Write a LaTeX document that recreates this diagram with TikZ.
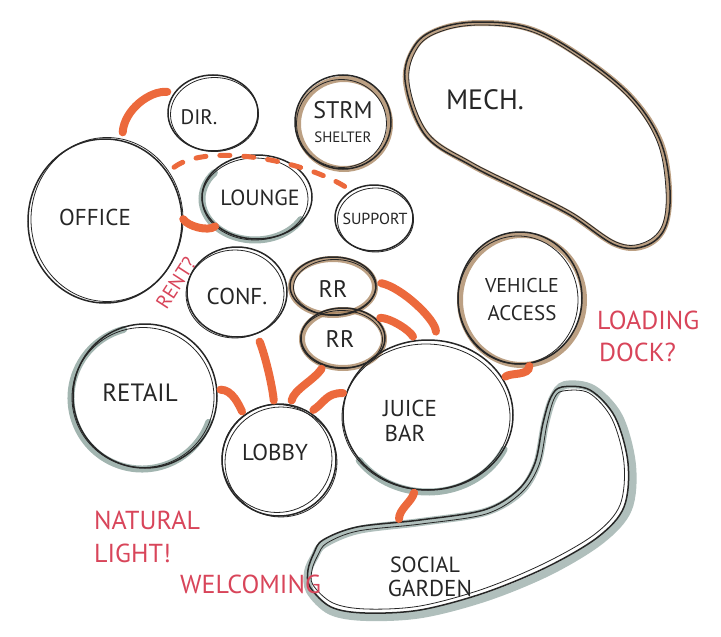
\documentclass[tikz,border=0pt]{standalone}
\usepackage{fontspec}
\setmainfont{PT Sans}
\usetikzlibrary{shapes.geometric}
\definecolor{ink}{HTML}{262626}
\definecolor{orng}{HTML}{EC693C}
\definecolor{redtxt}{HTML}{D8455A}
\definecolor{brn}{HTML}{A5805A}
\definecolor{grn}{HTML}{7B958F}
\pgfdeclarelayer{background}
\pgfsetlayers{background,main}
\begin{document}
\begin{tikzpicture}[x=1pt,y=-1pt,
 bub/.style={ellipse, draw=ink, line width=1.5pt, inner sep=0pt},
 second/.style={draw=ink, line width=0.8pt},
 lbl/.style={text=ink, font=\fontsize{22}{25}\selectfont, inner sep=0pt},
 link/.style={draw=orng, line width=8pt, line cap=round},
 dlink/.style={draw=orng, line width=5pt, line cap=round, dash pattern=on 10pt off 14pt},
 note/.style={text=redtxt, font=\fontsize{26}{33}\selectfont, inner sep=0pt, align=left},
 haloB/.style={draw=brn, line width=6pt, opacity=0.75},
 haloG/.style={draw=grn, line width=7pt, opacity=0.7, line cap=round},
]
\useasboundingbox (0,0) rectangle (721,637);

% bubbles
\node[bub, minimum width=90pt, minimum height=76pt] (dir) at (213,113) {};
\node[bub, minimum width=96pt, minimum height=94pt] (strm) at (343,122) {};
\node[bub, minimum width=110pt, minimum height=84pt] (lounge) at (257,197) {};
\node[bub, minimum width=154pt, minimum height=164pt] (office) at (105,221) {};
\node[bub, minimum width=78pt, minimum height=66pt] (support) at (374,218) {};
\node[bub, minimum width=100pt, minimum height=90pt] (conf) at (237,292) {};
\node[bub, minimum width=86pt, minimum height=58pt] (rr1) at (333,286) {};
\node[bub, minimum width=84pt, minimum height=60pt] (rr2) at (343,338) {};
\node[bub, minimum width=124pt, minimum height=132pt] (vehicle) at (520,298) {};
\node[bub, minimum width=144pt, minimum height=144pt] (retail) at (145,396) {};
\node[bub, minimum width=114pt, minimum height=112pt] (lobby) at (279,460) {};
\node[bub, minimum width=170pt, minimum height=150pt] (juice) at (428,415) {};

% second strokes
\draw[second] ([shift={(1.5,1.5)}]dir.center) ellipse (44pt and 37pt);
\draw[second] ([shift={(-1.5,1.5)}]strm.center) ellipse (45pt and 44pt);
\draw[second] ([shift={(-2,2)}]lounge.center) ellipse (53pt and 41pt);
\draw[second] ([shift={(2,-1.5)}]office.center) ellipse (76pt and 82pt);
\draw[second] ([shift={(1.5,2)}]support.center) ellipse (38pt and 32pt);
\draw[second] ([shift={(-2,2)}]conf.center) ellipse (49pt and 44pt);
\draw[second] ([shift={(1.5,1.5)}]rr1.center) ellipse (41pt and 28pt);
\draw[second] ([shift={(-1.5,1.5)}]rr2.center) ellipse (41pt and 29pt);
\draw[second] ([shift={(-2,2)}]vehicle.center) ellipse (60pt and 64pt);
\draw[second] ([shift={(-2,1.5)}]retail.center) ellipse (71pt and 70pt);
\draw[second] ([shift={(-2,-1.5)}]lobby.center) ellipse (55pt and 54pt);
\draw[second] ([shift={(2,2)}]lobby.center) ellipse (56pt and 55pt);
\draw[second] ([shift={(-2,2)}]juice.center) ellipse (84pt and 73pt);

% mech and garden outlines
\draw[draw=ink, line width=1.5pt] plot[smooth cycle, tension=0.6] coordinates {(405,80) (415,45) (440,28) (480,22) (530,28) (580,55) (630,95) (660,140) (670,190) (665,228) (645,246) (615,245) (570,215) (520,190) (470,165) (425,135)};
\draw[draw=ink, line width=0.8pt] plot[smooth cycle, tension=0.6] coordinates {(409,82) (418,47) (442,31) (480,25) (530,31) (578,57) (628,97) (657,141) (666,190) (662,226) (643,243) (616,242) (571,212) (521,187) (471,162) (428,133)};
\draw[draw=ink, line width=1.5pt] plot[smooth cycle, tension=0.55] coordinates {(562,387) (590,390) (615,417) (628,463) (624,507) (598,537) (547,567) (484,593) (420,610) (365,613) (331,607) (310,587) (308,570) (314,553) (323,540) (357,527) (420,520) (484,510) (518,490) (535,463) (543,423) (551,397)};
\draw[draw=ink, line width=0.8pt] plot[smooth cycle, tension=0.55] coordinates {(563,391) (589,393) (612,419) (624,463) (620,505) (595,534) (545,563) (483,589) (420,606) (366,609) (333,603) (313,585) (312,570) (318,555) (327,543) (358,531) (421,524) (486,514) (521,493) (539,465) (547,424) (554,399)};

% halos
\begin{pgfonlayer}{background}
\draw[haloB] ([shift={(1,2)}]strm.center) ellipse (46pt and 45pt);
\draw[haloB] ([shift={(0,1)}]rr1.center) ellipse (42pt and 28pt);
\draw[haloB] ([shift={(0,1)}]rr2.center) ellipse (41pt and 29pt);
\draw[haloB] ([shift={(2,2)}]vehicle.center) ellipse (62pt and 65pt);
\draw[haloB, line width=6pt] plot[smooth cycle, tension=0.6] coordinates {(406,82) (416,46) (441,29) (480,23) (530,29) (580,56) (630,96) (660,141) (669,190) (664,228) (644,246) (615,244) (570,214) (520,189) (470,164) (426,134)};
\draw[haloG] ([shift={(-2,2)}]lounge.center) ++(140:53pt and 41pt) arc[start angle=140, end angle=330, x radius=53pt, y radius=41pt];
\draw[haloG] ([shift={(-3,2)}]retail.center) ++(105:71pt and 71pt) arc[start angle=105, end angle=340, x radius=71pt, y radius=71pt];
\draw[haloG] ([shift={(0,3)}]juice.center) ++(215:84pt and 74pt) arc[start angle=215, end angle=335, x radius=84pt, y radius=74pt];
\draw[haloG, line width=8pt, opacity=0.6] plot[smooth cycle, tension=0.55] coordinates {(565,385) (593,389) (619,417) (632,465) (628,509) (601,540) (550,571) (487,597) (422,614) (366,617) (331,611) (310,591) (308,572) (315,556) (324,544) (358,530) (421,522) (485,512) (520,492) (537,464) (545,424) (553,398)};
\end{pgfonlayer}

% labels
\node[lbl, font=\fontsize{21}{24}\selectfont] (dirL) at (199,117) {DIR.};
\node[lbl, font=\fontsize{24}{26}\selectfont] (strmL1) at (343,110) {STRM};
\node[lbl, font=\fontsize{15}{17}\selectfont] (strmL2) at (343,137) {SHELTER};
\node[lbl, font=\fontsize{28}{30}\selectfont] (mechL) at (485,100) {MECH.};
\node[lbl] (loungeL) at (260,198) {LOUNGE};
\node[lbl, font=\fontsize{23}{26}\selectfont] (officeL) at (95,217) {OFFICE};
\node[lbl, font=\fontsize{16}{18}\selectfont] (supportL) at (375,219) {SUPPORT};
\node[lbl, font=\fontsize{23}{26}\selectfont] (confL) at (237,296) {CONF.};
\node[lbl, font=\fontsize{24}{26}\selectfont] (rr1L) at (333,289) {RR};
\node[lbl, font=\fontsize{24}{26}\selectfont] (rr2L) at (340,339) {RR};
\node[lbl, font=\fontsize{20}{24}\selectfont] (vehL1) at (522,285) {VEHICLE};
\node[lbl, font=\fontsize{21}{24}\selectfont] (vehL2) at (522,313) {ACCESS};
\node[lbl, font=\fontsize{25}{28}\selectfont] (retailL) at (140,393) {RETAIL};
\node[lbl, font=\fontsize{23}{26}\selectfont] (lobbyL) at (275,452) {LOBBY};
\node[lbl, font=\fontsize{23}{26}\selectfont] (juiceL1) at (410,408) {JUICE};
\node[lbl, font=\fontsize{23}{26}\selectfont] (juiceL2) at (405,433) {BAR};
\node[lbl] (gardenL1) at (425,565) {SOCIAL};
\node[lbl, font=\fontsize{23}{26}\selectfont] (gardenL2) at (430,588) {GARDEN};
\coordinate (gtop) at (399,519);

% notes
\node[note, rotate=57, font=\fontsize{20}{24}\selectfont] (rent) at (176,283) {RENT?};
\node[note, anchor=west] (load1) at (597,320) {LOADING};
\node[note, anchor=west] (load2) at (599,352) {DOCK?};
\node[note, anchor=west] (nat1) at (94,520) {NATURAL};
\node[note, anchor=west] (nat2) at (94,553) {LIGHT!};
\node[note, anchor=west] (welc) at (180,584) {WELCOMING};

% connectors
\draw[link, shorten <=8pt, shorten >=7pt] (office.78) .. controls +(2,-30) and +(-25,-2) .. (dir.152);
\draw[link, shorten <=1pt, shorten >=1pt] (office.2) .. controls +(5,8) and +(-8,6) .. (lounge.215);
\draw[dlink, shorten <=8pt, shorten >=4pt] (office.38) .. controls +(40,-30) and +(-45,-30) .. (support.130);
\draw[link, shorten <=8pt, shorten >=3pt] (conf.-65) .. controls +(8,20) and +(-2,-20) .. (lobby.95);
\draw[link, shorten <=3pt, shorten >=4pt] (retail.5) .. controls +(15,0) and +(-5,-10) .. (lobby.128);
\draw[link, shorten <=4pt, shorten >=4pt] (rr2.-125) .. controls +(-10,15) and +(3,-15) .. (lobby.78);
\draw[link, shorten <=3pt, shorten >=4pt] (juice.165) .. controls +(-20,0) and +(15,-10) .. (lobby.57);
\draw[link, shorten <=5pt, shorten >=8pt] (rr1.5) .. controls +(25,5) and +(0,-20) .. (juice.84);
\draw[link, shorten <=5pt, shorten >=4pt] (rr2.32) .. controls +(15,0) and +(-5,-10) .. (juice.100);
\draw[link, shorten <=2pt, shorten >=3pt] (vehicle.-82) .. controls +(0,12) and +(8,-6) .. (juice.26);
\draw[link, shorten <=3pt] (juice.-100) .. controls +(-3,12) and +(0,-10) .. (gtop);
\end{tikzpicture}
\end{document}
